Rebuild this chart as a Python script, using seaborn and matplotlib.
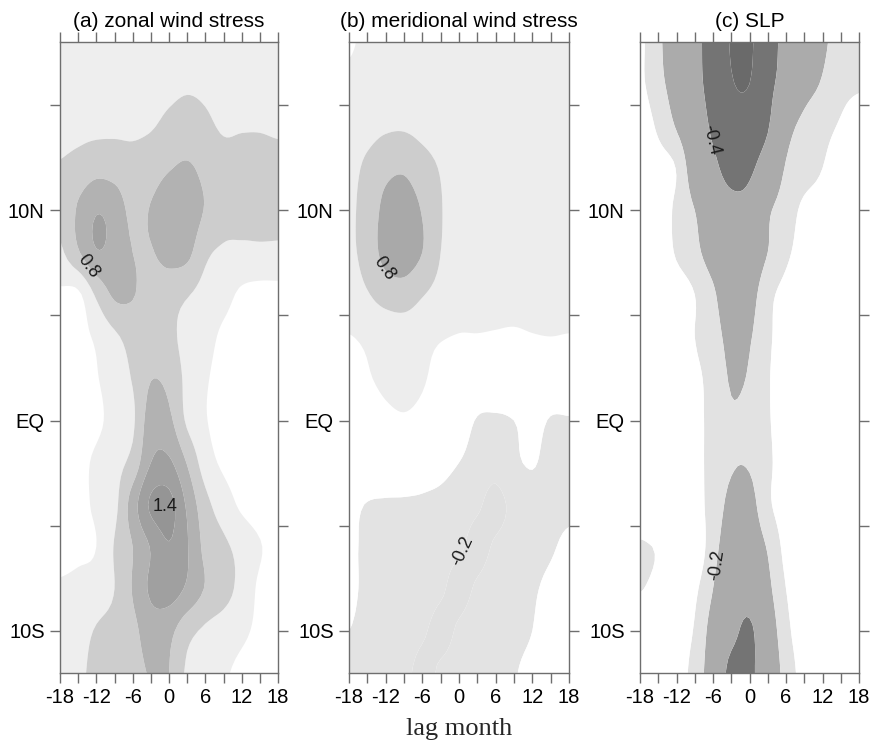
import numpy as np
import matplotlib
matplotlib.use("Agg")
import matplotlib.pyplot as plt
import seaborn as sns

# ---------------- data ----------------
lags = [-18, -15, -12, -9, -6, -3, 0, 3, 6, 9, 12, 15, 18]
lats = [18, 16, 14, 12, 10, 8, 6, 4, 2, 0, -2, -4, -6, -8, -10, -12]

# (a) zonal wind stress regression, rows = lats (north -> south), cols = lags
zonal_stress = [
    [0.30, 0.30, 0.30, 0.30, 0.30, 0.32, 0.34, 0.35, 0.34, 0.32, 0.30, 0.30, 0.30],
    [0.33, 0.34, 0.35, 0.36, 0.37, 0.40, 0.44, 0.47, 0.45, 0.40, 0.38, 0.37, 0.36],
    [0.40, 0.42, 0.43, 0.44, 0.45, 0.48, 0.56, 0.60, 0.55, 0.47, 0.48, 0.48, 0.46],
    [0.52, 0.60, 0.70, 0.68, 0.60, 0.66, 0.78, 0.84, 0.72, 0.60, 0.60, 0.60, 0.58],
    [0.55, 0.84, 1.08, 0.98, 0.72, 0.82, 1.00, 0.98, 0.78, 0.62, 0.60, 0.58, 0.56],
    [0.45, 0.77, 1.08, 1.00, 0.80, 0.78, 0.92, 0.88, 0.56, 0.46, 0.44, 0.45, 0.45],
    [0.15, 0.15, 0.55, 0.85, 0.82, 0.65, 0.60, 0.52, 0.40, 0.30, 0.15, 0.10, 0.10],
    [0.05, 0.10, 0.25, 0.45, 0.60, 0.65, 0.56, 0.42, 0.30, 0.15, 0.08, 0.05, 0.05],
    [0.05, 0.08, 0.18, 0.35, 0.52, 0.79, 0.72, 0.42, 0.23, 0.12, 0.06, 0.05, 0.05],
    [0.03, 0.06, 0.14, 0.30, 0.45, 0.95, 0.87, 0.45, 0.22, 0.10, 0.05, 0.04, 0.04],
    [0.05, 0.12, 0.25, 0.40, 0.60, 1.10, 1.15, 0.78, 0.35, 0.15, 0.08, 0.05, 0.05],
    [0.05, 0.12, 0.25, 0.42, 0.95, 1.45, 1.50, 1.05, 0.60, 0.35, 0.15, 0.06, 0.05],
    [0.05, 0.12, 0.20, 0.52, 0.80, 1.12, 1.38, 1.12, 0.72, 0.56, 0.40, 0.22, 0.10],
    [0.25, 0.30, 0.35, 0.50, 0.82, 1.15, 1.25, 1.05, 0.78, 0.62, 0.40, 0.15, 0.08],
    [0.30, 0.40, 0.52, 0.60, 0.72, 0.95, 0.88, 0.60, 0.45, 0.35, 0.25, 0.15, 0.10],
    [0.35, 0.45, 0.56, 0.62, 0.70, 0.82, 0.80, 0.45, 0.32, 0.23, 0.15, 0.10, 0.08],
]

# (b) meridional wind stress regression
meridional_stress = [
    [0.17, 0.26, 0.30, 0.31, 0.31, 0.31, 0.30, 0.30, 0.30, 0.30, 0.30, 0.30, 0.29],
    [0.26, 0.32, 0.36, 0.38, 0.36, 0.33, 0.31, 0.30, 0.30, 0.30, 0.30, 0.30, 0.30],
    [0.34, 0.40, 0.46, 0.47, 0.42, 0.37, 0.33, 0.31, 0.30, 0.30, 0.30, 0.30, 0.30],
    [0.42, 0.56, 0.72, 0.76, 0.62, 0.48, 0.36, 0.33, 0.30, 0.30, 0.30, 0.30, 0.30],
    [0.45, 0.62, 0.88, 0.95, 0.78, 0.52, 0.36, 0.32, 0.30, 0.30, 0.30, 0.30, 0.30],
    [0.44, 0.62, 0.90, 0.96, 0.80, 0.50, 0.34, 0.31, 0.30, 0.30, 0.30, 0.30, 0.30],
    [0.36, 0.48, 0.62, 0.66, 0.52, 0.40, 0.30, 0.29, 0.28, 0.28, 0.28, 0.29, 0.29],
    [0.19, 0.25, 0.30, 0.32, 0.28, 0.22, 0.19, 0.19, 0.18, 0.17, 0.19, 0.20, 0.19],
    [0.05, 0.17, 0.26, 0.29, 0.23, 0.10, 0.04, 0.02, 0.02, 0.02, 0.02, 0.02, 0.02],
    [0.02, 0.05, 0.13, 0.17, 0.12, 0.03, -0.02, -0.11, -0.12, -0.10, -0.05, -0.11, -0.11],
    [0.00, -0.01, -0.02, -0.03, -0.04, -0.06, -0.10, -0.15, -0.17, -0.12, -0.09, -0.14, -0.13],
    [-0.07, -0.105, -0.11, -0.11, -0.115, -0.13, -0.16, -0.19, -0.22, -0.18, -0.15, -0.13, -0.12],
    [-0.08, -0.12, -0.13, -0.14, -0.15, -0.17, -0.19, -0.22, -0.19, -0.16, -0.13, -0.11, -0.08],
    [-0.08, -0.12, -0.13, -0.14, -0.16, -0.19, -0.22, -0.19, -0.16, -0.13, -0.11, -0.08, -0.05],
    [-0.10, -0.13, -0.14, -0.16, -0.19, -0.22, -0.19, -0.16, -0.14, -0.12, -0.10, -0.06, -0.04],
    [-0.13, -0.14, -0.15, -0.18, -0.22, -0.19, -0.17, -0.15, -0.13, -0.105, -0.08, -0.05, -0.03],
]

# (c) SLP regression
slp = [
    [-0.08, -0.18, -0.27, -0.37, -0.44, -0.505, -0.51, -0.44, -0.37, -0.30, -0.22, -0.16, -0.11],
    [-0.08, -0.17, -0.25, -0.36, -0.44, -0.495, -0.50, -0.43, -0.35, -0.25, -0.19, -0.13, -0.11],
    [-0.03, -0.12, -0.21, -0.32, -0.42, -0.47, -0.46, -0.41, -0.25, -0.17, -0.13, -0.09, -0.05],
    [0.00, -0.05, -0.105, -0.28, -0.37, -0.44, -0.42, -0.33, -0.19, -0.14, -0.10, -0.05, -0.03],
    [0.00, -0.04, -0.12, -0.20, -0.30, -0.36, -0.35, -0.22, -0.15, -0.08, -0.06, -0.03, -0.02],
    [0.00, -0.04, -0.11, -0.17, -0.26, -0.33, -0.30, -0.20, -0.12, -0.06, -0.03, -0.02, -0.01],
    [0.00, -0.02, -0.05, -0.10, -0.18, -0.30, -0.25, -0.13, -0.07, -0.03, -0.02, -0.01, 0.00],
    [0.00, 0.00, -0.04, -0.10, -0.15, -0.24, -0.21, -0.12, -0.05, -0.02, 0.00, 0.00, 0.00],
    [0.00, -0.01, -0.03, -0.08, -0.13, -0.21, -0.19, -0.11, -0.04, -0.01, -0.01, -0.01, -0.01],
    [0.00, 0.00, -0.02, -0.07, -0.13, -0.19, -0.17, -0.11, -0.05, -0.01, -0.01, -0.01, -0.01],
    [0.00, 0.00, -0.02, -0.07, -0.13, -0.19, -0.19, -0.12, -0.05, -0.01, 0.00, 0.00, 0.00],
    [0.00, 0.00, -0.02, -0.06, -0.14, -0.23, -0.24, -0.12, -0.05, -0.01, 0.00, 0.00, 0.00],
    [-0.115, -0.09, -0.05, -0.03, -0.16, -0.27, -0.28, -0.19, -0.07, -0.02, 0.00, 0.00, 0.00],
    [-0.105, -0.07, -0.03, -0.08, -0.20, -0.32, -0.34, -0.23, -0.10, -0.03, 0.00, 0.00, 0.00],
    [-0.03, -0.02, -0.04, -0.11, -0.25, -0.36, -0.42, -0.28, -0.13, -0.04, 0.00, 0.00, 0.00],
    [-0.02, -0.02, -0.05, -0.14, -0.27, -0.44, -0.43, -0.30, -0.16, -0.06, -0.01, 0.00, 0.00],
]

titles = ["(a) zonal wind stress", "(b) meridional wind stress", "(c) SLP"]
zonal_levels = [-5, 0.2, 0.5, 0.8, 1.1, 1.4, 5]
meridional_levels = [-5, -0.2, -0.1, 0.2, 0.5, 0.8, 5]
slp_levels = [-5, -0.5, -0.4, -0.2, -0.1, 5]
# (level, label position (lag, lat), keep horizontal?)
zonal_labels = [(0.8, (-13.0, 7.4), False), (1.4, (-0.6, -4.1), True)]
meridional_labels = [(0.8, (-12.0, 7.3), False), (-0.2, (-1.5, -6.0), False)]
slp_labels = [(-0.4, (-5.7, 13.4), False), (-0.2, (-5.0, -6.9), False)]

xtick_vals = list(range(-18, 19, 3))
xtick_text = [str(v) if v % 6 == 0 else "" for v in xtick_vals]
ytick_vals = [-10, -5, 0, 5, 10, 15]
ytick_text = ["10S", "", "EQ", "", "10N", ""]

# ---------------- style ----------------
sns.set_theme(style="ticks")
plt.rcParams["font.family"] = ["Liberation Sans", "DejaVu Sans"]
plt.rcParams["axes.unicode_minus"] = False

zonal_colors = ["#ffffff", "#eeeeee", "#cdcdcd", "#b2b2b2", "#a0a0a0", "#959595"]
meridional_colors = ["#e0e0e0", "#e3e3e3", "#ffffff", "#ededed", "#cdcdcd", "#a9a9a9"]
slp_colors = ["#6a6a6a", "#747474", "#ababab", "#e2e2e2", "#ffffff"]
edge = "#6e6e6e"


def catmull_rom(a, n, axis):
    a = np.moveaxis(np.asarray(a, float), axis, 0)
    p = np.concatenate([a[:1], a, a[-1:]], axis=0)
    out = []
    for i in range(a.shape[0] - 1):
        p0, p1, p2, p3 = p[i], p[i + 1], p[i + 2], p[i + 3]
        for k in range(n):
            t = k / n
            out.append(0.5 * (2 * p1 + (-p0 + p2) * t
                              + (2 * p0 - 5 * p1 + 4 * p2 - p3) * t ** 2
                              + (-p0 + 3 * p1 - 3 * p2 + p3) * t ** 3))
    out.append(a[-1])
    return np.moveaxis(np.array(out), 0, axis)


fig = plt.figure(figsize=(8.71, 7.44), dpi=100)
W, H = 871.0, 744.0
boxes = [(60, 278), (349, 569), (640, 859)]
top_px, bot_px = 42, 673

panels = [
    (zonal_stress, zonal_levels, zonal_colors, zonal_labels),
    (meridional_stress, meridional_levels, meridional_colors, meridional_labels),
    (slp, slp_levels, slp_colors, slp_labels),
]

N = 6
lat_asc = np.array(lats[::-1], float)
lag_arr = np.array(lags, float)
xf = np.linspace(lag_arr[0], lag_arr[-1], (len(lag_arr) - 1) * N + 1)
yf = np.linspace(lat_asc[0], lat_asc[-1], (len(lat_asc) - 1) * N + 1)

for (x0, x1), title, (field, levels, colors, labels) in zip(boxes, titles, panels):
    ax = fig.add_axes([x0 / W, 1 - bot_px / H, (x1 - x0) / W, (bot_px - top_px) / H])
    Z = np.array(field, float)[::-1]
    Zf = catmull_rom(catmull_rom(Z, N, 0), N, 1)
    ax.contourf(xf, yf, Zf, levels=levels, colors=colors, antialiased=True)
    for lev, pos, flat in labels:
        cs = ax.contour(xf, yf, Zf, levels=[lev], colors="k", linewidths=0)
        texts = ax.clabel(cs, manual=[pos], fmt="%.1f", fontsize=13, colors="k", inline=False)
        if flat:
            for t in texts:
                t.set_rotation(0)
                t.set_position(pos)
    ax.set_xlim(-18, 18)
    ax.set_ylim(-12, 18)
    ax.set_xticks(xtick_vals)
    ax.set_xticklabels(xtick_text)
    ax.set_yticks(ytick_vals)
    ax.set_yticklabels(ytick_text)
    ax.tick_params(which="both", direction="out", length=7, width=1, color=edge,
                   top=True, right=True, labelsize=14.5, pad=4, labelcolor="black")
    for s in ax.spines.values():
        s.set_color(edge)
        s.set_linewidth(1.0)
        s.set_visible(True)
    ax.set_title(title, fontsize=15, pad=10.5, color="black")

fig.text(459 / W, 1 - 735 / H, "lag month", ha="center", va="baseline",
         fontsize=19, family=["Liberation Serif", "DejaVu Serif"])

fig.savefig("out.png", dpi=100)
